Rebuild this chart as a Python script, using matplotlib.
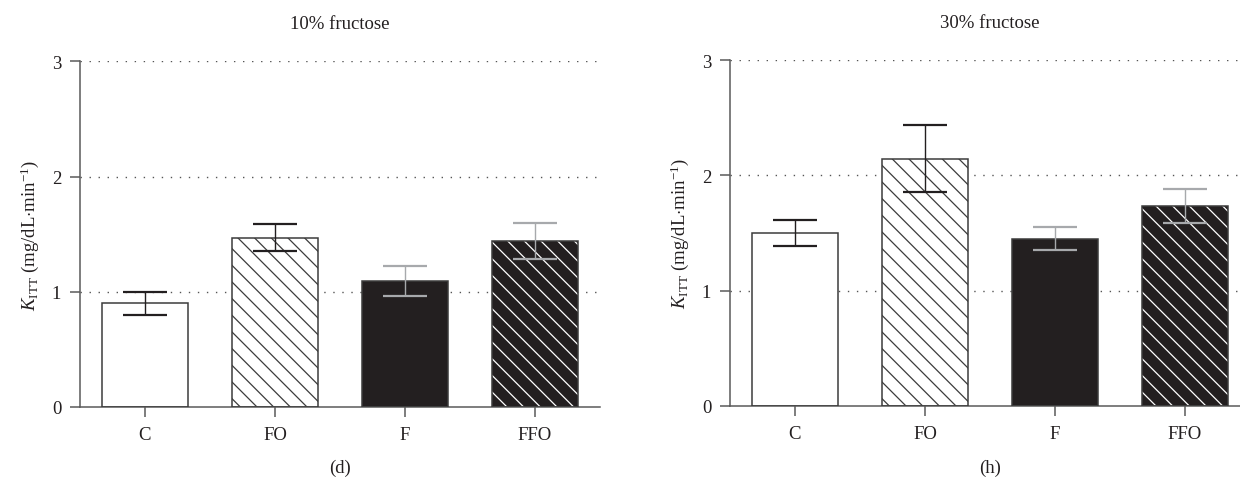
import matplotlib
matplotlib.use("Agg")
import matplotlib.pyplot as plt

plt.rcParams["font.family"] = ["Liberation Serif", "DejaVu Serif"]
plt.rcParams["mathtext.fontset"] = "custom"
plt.rcParams["mathtext.rm"] = "Liberation Serif"
plt.rcParams["mathtext.it"] = "Liberation Serif:italic"
plt.rcParams["hatch.linewidth"] = 0.9

groups = ["C", "FO", "F", "FFO"]
panels = ["10% fructose", "30% fructose"]
letters = ["(d)", "(h)"]

k_itt_10 = [0.90, 1.47, 1.09, 1.44]
sem_10 = [0.10, 0.12, 0.13, 0.16]
k_itt_30 = [1.50, 2.145, 1.45, 1.735]
sem_30 = [0.11, 0.29, 0.10, 0.15]

INK = "#231f20"
AXIS = "#5a5a5a"
EDGE = "#3c3c3c"
LIGHT = "#a7a9ac"

faces = ["white", "white", INK, INK]
hatches = [None, "\\\\", None, "\\\\"]
hatch_cols = [EDGE, EDGE, EDGE, "white"]
err_cols = [INK, INK, LIGHT, LIGHT]

fig = plt.figure(figsize=(12.4, 4.85), dpi=100)
axes = [fig.add_axes([0.0645, 0.1588, 0.4194, 0.7128]),
        fig.add_axes([0.5887, 0.1612, 0.4194, 0.7128])]

for ax, title, letter, vals, errs in zip(axes, panels, letters,
                                         [k_itt_10, k_itt_30], [sem_10, sem_30]):
    x = range(len(groups))
    for i in x:
        # hatch colour follows edgecolor, so the outline is drawn separately
        ax.bar(i, vals[i], width=0.66, color=faces[i], edgecolor=hatch_cols[i],
               hatch=hatches[i], linewidth=0, zorder=2)
        ax.bar(i, vals[i], width=0.66, fill=False, edgecolor=EDGE,
               linewidth=1.1, zorder=3)
        ax.errorbar(i, vals[i], yerr=errs[i], fmt="none", ecolor=err_cols[i],
                    elinewidth=1.0, capsize=15.8, capthick=1.6, zorder=4)

    for yv in [1, 2, 3]:
        ax.axhline(yv, color="#555555", lw=1.0, linestyle=(0, (1, 5.5)), zorder=1)

    ax.set_xlim(-0.5, 3.5)
    ax.set_ylim(0, 3)
    ax.set_yticks([0, 1, 2, 3])
    ax.set_xticks(list(x))
    ax.set_xticklabels(groups)
    ax.spines["top"].set_visible(False)
    ax.spines["right"].set_visible(False)
    for s in ["left", "bottom"]:
        ax.spines[s].set_color(AXIS)
        ax.spines[s].set_linewidth(1.1)
    ax.tick_params(axis="both", colors=AXIS, length=7.5, width=1.1,
                   labelsize=13.5, labelcolor="#231f20", pad=6)
    ax.set_ylabel(r"$\it{K}_{\rm ITT}$ (mg/dL$\cdot$min$^{-1}$)", fontsize=13.5,
                  color="#231f20", labelpad=8)
    ax.set_title(title, fontsize=13.5, color="#231f20", pad=24)
    ax.patch.set_alpha(0)

    pos = ax.get_position()
    fig.text(pos.x0 + 520 / 1240 / 2, 0.035, letter, ha="center", va="center",
             fontsize=13.5, color="#231f20")

fig.savefig("out.png", dpi=100)
